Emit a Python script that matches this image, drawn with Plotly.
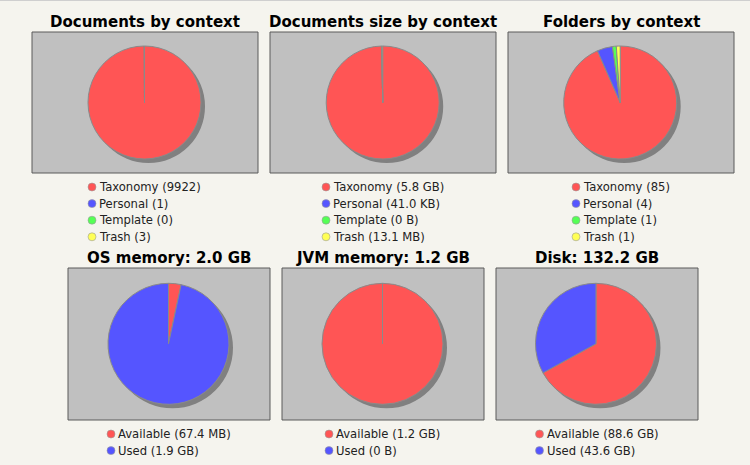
import plotly.graph_objects as go

W, H = 750, 465

# ---- data -------------------------------------------------------------
CONTEXTS = ["Taxonomy", "Personal", "Template", "Trash"]
MEMORY_PARTS = ["Available", "Used"]

documents_count = [9922, 1, 0, 3]
documents_size = ["5.8 GB", "41.0 KB", "0 B", "13.1 MB"]
folders_count = [85, 4, 1, 1]

os_memory = ["67.4 MB", "1.9 GB"]
os_memory_total = "2.0 GB"
jvm_memory = ["1.2 GB", "0 B"]
jvm_memory_total = "1.2 GB"
disk_space = ["88.6 GB", "43.6 GB"]
disk_total = "132.2 GB"

# ---- styling ------------------------------------------------------------
SLICE_COLORS = ["#FF5555", "#5555FF", "#55FF55", "#FFFF55"]
PAGE_BG = "#F5F4EE"
PLOT_BG = "#C0C0C0"
BORDER = "#5A5A5A"
SHADOW = "#808080"
FONT = "DejaVu Sans"

UNITS = {"B": 1, "KB": 1024, "MB": 1024 ** 2, "GB": 1024 ** 3}


def to_bytes(text):
    num, unit = text.split()
    return float(num) * UNITS[unit]


charts = [
    dict(title="Documents by context", labels=CONTEXTS,
         values=documents_count, legend=[str(v) for v in documents_count],
         panel=(32, 32, 258, 173), pie=(144.5, 102.5, 56.5), lx=92),
    dict(title="Documents size by context", labels=CONTEXTS,
         values=[to_bytes(s) for s in documents_size], legend=documents_size,
         panel=(270, 32, 496, 173), pie=(382.7, 102.5, 56.5), lx=326),
    dict(title="Folders by context", labels=CONTEXTS,
         values=folders_count, legend=[str(v) for v in folders_count],
         panel=(508, 32, 734, 173), pie=(620.2, 102.5, 56.5), lx=576),
    dict(title=f"OS memory: {os_memory_total}", labels=MEMORY_PARTS,
         values=[to_bytes(s) for s in os_memory], legend=os_memory,
         panel=(68, 268, 270, 420), pie=(168.5, 343.8, 60.5), lx=111),
    dict(title=f"JVM memory: {jvm_memory_total}", labels=MEMORY_PARTS,
         values=[to_bytes(s) for s in jvm_memory], legend=jvm_memory,
         panel=(282, 268, 484, 420), pie=(382.5, 343.8, 60.5), lx=329),
    dict(title=f"Disk: {disk_total}", labels=MEMORY_PARTS,
         values=[to_bytes(s) for s in disk_space], legend=disk_space,
         panel=(496, 268, 698, 420), pie=(596, 343.8, 60.5), lx=539.5),
]

ROW_STEP = 16.6
SHADOW_OFFSET = 4
TEXT_GAP = 5


def domain(cx, cy, r):
    return dict(x=[(cx - r) / W, (cx + r) / W],
                y=[1 - (cy + r) / H, 1 - (cy - r) / H])


fig = go.Figure()
shapes = []
annotations = []

# thin rule along the top of the page
shapes.append(dict(type="line", xref="x", yref="y", x0=0, x1=W, y0=0.5, y1=0.5,
                   line=dict(color="#CFCFCF", width=1), layer="below"))

for ch in charts:
    x0, y0, x1, y1 = ch["panel"]
    cx, cy, r = ch["pie"]
    shapes.append(dict(type="rect", xref="x", yref="y", x0=x0, x1=x1, y0=y0, y1=y1,
                       fillcolor=PLOT_BG, line=dict(color=BORDER, width=1),
                       layer="below"))
    annotations.append(dict(xref="x", yref="y", x=(x0 + x1) / 2, y=y0 - 10,
                            text=f"<b>{ch['title']}</b>", showarrow=False,
                            font=dict(family=FONT, size=15, color="#000000"),
                            xanchor="center", yanchor="middle"))

    # drop shadow beneath the pie
    fig.add_trace(go.Pie(values=[1], labels=["shadow"], sort=False,
                         marker=dict(colors=[SHADOW], line=dict(width=0)),
                         textinfo="none", hoverinfo="skip", showlegend=False,
                         domain=domain(cx + SHADOW_OFFSET, cy + SHADOW_OFFSET, r)))
    fig.add_trace(go.Pie(values=ch["values"], labels=ch["labels"], sort=False,
                         direction="clockwise", rotation=0,
                         marker=dict(colors=SLICE_COLORS[:len(ch["labels"])],
                                     line=dict(color="#8A8A8A", width=1)),
                         textinfo="none", hoverinfo="label+value",
                         showlegend=False, domain=domain(cx, cy, r)))

    # legend rows: coloured dot + label
    first_row = y1 + 14
    ys = [first_row + i * ROW_STEP for i in range(len(ch["labels"]))]
    fig.add_trace(go.Scatter(
        x=[ch["lx"]] * len(ys), y=ys, mode="markers",
        marker=dict(size=8, color=SLICE_COLORS[:len(ys)],
                    line=dict(color="#9A9A9A", width=0.6)),
        hoverinfo="skip", showlegend=False, cliponaxis=False))
    for yy, lab, val in zip(ys, ch["labels"], ch["legend"]):
        annotations.append(dict(xref="x", yref="y", x=ch["lx"] + TEXT_GAP, y=yy,
                                text=f"{lab} ({val})", showarrow=False,
                                font=dict(family=FONT, size=11.6, color="#222222"),
                                xanchor="left", yanchor="middle"))

fig.update_layout(
    width=W, height=H,
    margin=dict(l=0, r=0, t=0, b=0),
    paper_bgcolor=PAGE_BG, plot_bgcolor=PAGE_BG,
    xaxis=dict(range=[0, W], visible=False, fixedrange=True),
    yaxis=dict(range=[H, 0], visible=False, fixedrange=True),
    shapes=shapes, annotations=annotations,
    showlegend=False,
)

fig.write_html("out.html")
